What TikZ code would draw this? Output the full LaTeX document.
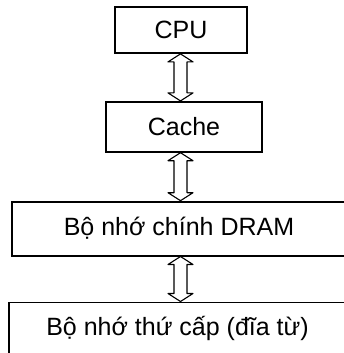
\documentclass[tikz,border=0pt]{standalone}
\usepackage{fontspec}
\setmainfont{Liberation Sans}
\usepackage{tikz}
\usetikzlibrary{positioning, calc}

\begin{document}
\begin{tikzpicture}[x=1pt, y=-1pt,
		memnode/.style={draw, line width=1.8pt, inner sep=0pt, align=center,
			font=\fontsize{25}{30}\selectfont},
		dblarrow/.style={line width=1.1pt, line join=round, fill=white,
			to path={let \p1=(\tikztostart), \p2=(\tikztotarget) in
				(\p1) -- (\x1+12.5pt,\y1-8pt) -- (\x1+6.5pt,\y1-8pt)
				-- (\x2+6.5pt,\y2+8pt) -- (\x2+12.5pt,\y2+8pt) -- (\p2)
				-- (\x2-12.5pt,\y2+8pt) -- (\x2-6.5pt,\y2+8pt)
				-- (\x1-6.5pt,\y1-8pt) -- (\x1-12.5pt,\y1-8pt) -- cycle}}
		]
		\useasboundingbox (0,0) rectangle (344,353);
		\coordinate (axis) at (180.5,0);
		\node[memnode, minimum width=132pt, minimum height=46pt] (cpu) at (181,30) {CPU};
		\node[memnode, minimum width=156pt, minimum height=50pt, below=47pt of cpu, xshift=3pt] (cache) {Cache};
		\node[memnode, minimum width=334pt, minimum height=54pt, below=48pt of cache, xshift=-5pt] (dram) {Bộ nhớ chính DRAM};
		\node[memnode, minimum width=337pt, minimum height=52pt, below=45pt of dram, xshift=-1.5pt] (disk) {Bộ nhớ thứ cấp (đĩa từ)};
		
		\foreach \s/\t in {cpu/cache, cache/dram, dram/disk}
		\draw[dblarrow] (\s.south -| axis) to (\t.north -| axis);
	\end{tikzpicture}
\end{document}
